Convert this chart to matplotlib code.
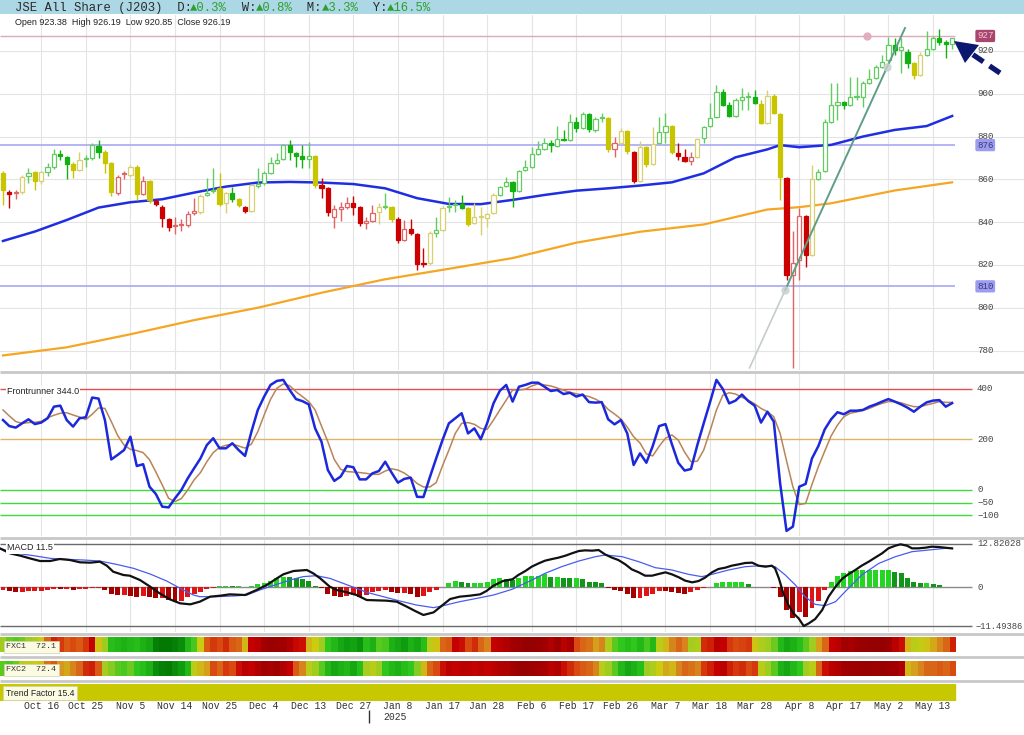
# -*- coding: utf-8 -*-

import matplotlib
matplotlib.use('Agg')
import matplotlib.pyplot as plt
from matplotlib.colors import LinearSegmentedColormap
from matplotlib.patches import Rectangle, Polygon
import numpy as np

# ---------------------------------------------------------------- data
date_labels = ['Oct 16', 'Oct 25', 'Nov 5', 'Nov 14', 'Nov 25', 'Dec 4', 'Dec 13',
               'Dec 27', 'Jan 8', 'Jan 17', 'Jan 28', 'Feb 6', 'Feb 17', 'Feb 26',
               'Mar 7', 'Mar 18', 'Mar 28', 'Apr 8', 'Apr 17', 'May 2', 'May 13']
date_bars = list(range(6, 147, 7))      # bar index of every date label
year_bar = 57.5                          # year change (Dec 31 -> Jan 2)

opens = [863.0, 854.1, 853.6, 854.1, 861.6, 863.5, 859.2, 863.5, 865.8, 871.9,
         870.5, 867.2, 864.4, 869.5, 870.0, 875.6, 872.8, 867.7, 853.6, 862.5,
         862.1, 865.8, 853.2, 859.2, 849.9, 847.1, 841.5, 838.2, 838.7, 838.7,
         844.3, 844.8, 852.7, 854.6, 856.0, 848.9, 853.6, 850.8, 847.1, 845.2,
         856.9, 858.3, 863.0, 867.7, 869.5, 876.1, 872.3, 870.9, 869.5, 870.9,
         857.4, 856.0, 842.4, 846.2, 847.1, 848.9, 847.1, 839.6, 840.5, 844.8,
         847.1, 847.1, 841.5, 831.7, 836.8, 834.5, 820.9, 820.9, 835.0, 836.4,
         847.1, 848.0, 848.5, 846.6, 839.6, 842.4, 842.0, 844.3, 852.7, 856.9,
         858.8, 854.6, 864.4, 865.8, 871.9, 874.2, 877.0, 875.6, 878.9, 878.4,
         886.8, 884.0, 890.6, 883.1, 888.7, 888.7, 874.2, 877.0, 882.6, 872.8,
         859.2, 875.1, 867.2, 877.0, 882.1, 885.0, 872.3, 870.5, 868.6, 870.5,
         879.3, 885.0, 889.2, 900.8, 894.8, 889.6, 897.1, 898.5, 898.5, 895.2,
         886.4, 899.0, 890.6, 860.7, 815.3, 822.2, 842.9, 824.7, 860.2, 863.9,
         886.8, 894.8, 896.2, 894.8, 898.5, 898.5, 905.0, 907.4, 912.5, 915.8,
         922.8, 920.5, 919.5, 914.4, 908.8, 918.1, 920.9, 926.1, 924.2, 923.38]
highs = [864.0, 855.0, 855.0, 862.0, 865.3, 864.0, 864.0, 867.7, 874.2, 873.7,
         871.0, 868.0, 872.8, 871.5, 877.0, 878.4, 873.5, 868.0, 862.0, 864.0,
         866.5, 866.5, 861.6, 859.8, 851.0, 847.8, 842.0, 842.4, 841.5, 845.0,
         851.3, 853.0, 860.7, 865.3, 863.0, 854.0, 856.4, 851.5, 847.6, 858.0,
         865.3, 864.0, 870.5, 872.3, 876.5, 878.4, 873.0, 876.1, 877.5, 871.5,
         860.7, 856.5, 848.0, 849.4, 851.8, 852.2, 847.6, 842.4, 848.0, 849.0,
         853.6, 847.6, 842.4, 841.0, 841.5, 835.0, 827.9, 836.0, 842.4, 847.5,
         851.8, 850.4, 852.7, 847.0, 849.0, 847.1, 844.5, 853.5, 857.0, 861.1,
         859.3, 864.5, 869.1, 875.1, 878.0, 879.3, 878.4, 885.0, 883.1, 890.6,
         889.2, 891.5, 891.2, 889.0, 891.0, 889.2, 879.8, 884.0, 883.0, 873.3,
         878.0, 875.6, 884.5, 889.2, 891.0, 885.5, 877.0, 874.2, 872.8, 879.5,
         885.0, 895.7, 904.1, 902.0, 896.0, 898.0, 902.7, 900.8, 901.7, 897.0,
         901.7, 900.0, 891.0, 861.2, 835.9, 846.6, 843.5, 866.7, 865.0, 888.0,
         905.0, 905.0, 896.8, 907.9, 907.9, 906.0, 911.6, 913.5, 918.0, 926.5,
         926.0, 926.0, 921.0, 915.0, 919.5, 929.3, 927.0, 930.3, 925.0, 926.19]
lows = [848.0, 846.6, 851.0, 853.0, 858.3, 855.0, 858.0, 861.6, 865.0, 869.0,
        860.2, 860.7, 864.0, 866.0, 869.0, 870.0, 863.0, 852.0, 852.5, 860.0,
        861.0, 850.4, 852.5, 849.0, 847.6, 837.8, 836.0, 834.5, 836.0, 837.5,
        843.3, 844.0, 852.0, 853.5, 847.5, 844.3, 849.4, 847.0, 844.3, 844.8,
        856.0, 857.5, 862.5, 867.0, 869.0, 869.0, 865.8, 865.3, 865.3, 856.0,
        851.3, 843.0, 837.3, 840.5, 846.0, 843.3, 838.0, 836.8, 840.0, 839.2,
        846.0, 840.0, 830.3, 831.0, 834.0, 817.7, 819.0, 820.0, 833.1, 836.0,
        844.8, 844.8, 846.0, 838.0, 839.0, 834.0, 837.8, 844.0, 852.0, 856.4,
        847.1, 854.0, 864.0, 865.3, 871.5, 873.8, 872.8, 875.0, 878.0, 878.0,
        882.0, 883.5, 882.0, 882.0, 886.8, 873.0, 870.5, 876.5, 872.0, 858.5,
        858.8, 866.0, 866.8, 876.5, 877.0, 872.0, 869.0, 868.0, 866.7, 870.0,
        877.0, 884.5, 888.8, 894.3, 889.0, 889.0, 892.4, 892.4, 895.2, 886.0,
        886.0, 890.5, 850.4, 813.0, 771.9, 813.0, 819.0, 824.2, 859.8, 863.5,
        886.3, 887.8, 893.0, 894.3, 897.0, 893.8, 904.5, 907.0, 912.0, 915.3,
        918.0, 909.7, 912.0, 907.0, 908.3, 917.6, 920.4, 922.8, 916.7, 920.85]
closes = [855.0, 853.2, 853.6, 861.1, 863.0, 859.2, 863.5, 865.8, 871.9, 870.9,
          867.2, 864.4, 869.1, 869.5, 876.1, 872.8, 867.7, 854.1, 861.1, 862.5,
          865.8, 853.2, 859.2, 850.4, 848.5, 842.0, 837.8, 838.2, 838.7, 843.8,
          845.2, 852.2, 853.6, 854.6, 848.5, 853.6, 850.8, 848.0, 845.2, 857.4,
          857.8, 863.0, 867.7, 869.1, 876.1, 872.8, 870.9, 869.5, 870.9, 857.4,
          856.0, 844.8, 846.2, 847.1, 848.9, 847.1, 839.6, 840.5, 844.3, 847.1,
          847.1, 841.5, 831.7, 836.8, 835.0, 820.5, 820.5, 835.0, 836.4, 846.6,
          847.1, 848.0, 846.6, 839.2, 842.4, 842.4, 843.8, 852.7, 856.4, 858.8,
          854.6, 863.9, 865.8, 871.9, 874.2, 877.0, 876.1, 878.9, 878.4, 886.8,
          884.0, 890.6, 883.5, 888.2, 888.7, 874.2, 877.0, 882.6, 873.3, 859.2,
          875.1, 867.2, 876.5, 882.1, 885.0, 872.8, 870.9, 868.6, 870.5, 878.9,
          884.5, 888.7, 900.8, 894.8, 889.6, 897.1, 898.5, 898.5, 895.7, 886.4,
          899.0, 891.0, 861.1, 815.3, 820.9, 842.9, 824.7, 860.2, 863.5, 886.8,
          894.8, 896.2, 894.8, 898.5, 898.5, 905.0, 906.9, 912.5, 914.9, 922.8,
          920.5, 921.9, 914.4, 908.8, 918.1, 920.9, 926.1, 924.2, 923.3, 926.19]
# g = green, y = yellow, r = red candle
tone = ("yrrygyyggg" "gyygggyyrr" "yyryrrrrrr" "ryggyygyry" "gggggggggy"
        "rrrrrrrrry" "gyrrrrrygy" "gggyyyyygg" "gggggggggg" "gggggyryyr"
        "yyyggyrrry" "gggggggggy" "yyyrrrrygg" "gggggggggg" "gggyyggggg")

# moving averages (read at sample bars)
ma_fast_x = [0, 5, 10, 15, 20, 25, 30, 35, 40, 45, 50, 55, 60, 65, 70, 75, 80, 85,
             90, 95, 100, 105, 110, 115, 120, 122, 125, 130, 135, 140, 145, 149]
ma_fast_y = [831.2, 835.6, 841.0, 846.8, 849.3, 850.7, 853.8, 856.6, 858.5, 858.8,
             858.5, 857.8, 855.8, 851.2, 848.5, 848.4, 850.4, 852.7, 854.7, 855.8,
             857.1, 858.6, 862.8, 870.3, 874.0, 876.0, 875.0, 876.1, 880.0, 883.1,
             884.9, 889.6]
ma_slow_x = [0, 10, 20, 30, 40, 50, 60, 70, 80, 90, 100, 110, 120, 125, 130, 140, 149]
ma_slow_y = [777.7, 781.5, 787.6, 794.2, 800.0, 807.0, 813.3, 818.2, 823.2, 830.4,
             835.5, 838.9, 845.9, 847.0, 848.8, 854.8, 858.6]

levels_blue = [876, 810]
level_top = 927
trend_x = [117.2, 122.8, 138.8, 141.6]
trend_y = [771.9, 808.3, 912.5, 930.7]

# Frontrunner
fr_main = [277, 253, 247, 264, 280, 261, 267, 284, 330, 334,
           277, 251, 284, 288, 366, 362, 277, 121, 139, 158,
           211, 95, 102, 13, -16, -66, -69, -33, 0, 46,
           86, 125, 178, 205, 165, 165, 185, 158, 135, 231,
           317, 370, 416, 432, 436, 396, 360, 352, 339, 244,
           191, 79, 36, 53, 95, 90, 42, 42, 66, 75,
           112, 69, 29, 44, 49, -27, -28, 50, 125, 198,
           264, 284, 304, 224, 244, 201, 264, 343, 393, 416,
           350, 409, 416, 425, 425, 409, 392, 396, 380, 385,
           370, 378, 348, 346, 348, 280, 260, 277, 224, 99,
           145, 108, 174, 253, 261, 182, 108, 77, 83, 178,
           264, 348, 436, 400, 343, 354, 378, 352, 334, 267,
           310, 271, 26, -162, -145, 13, 24, 125, 174, 240,
           280, 308, 300, 314, 314, 317, 330, 339, 350, 360,
           350, 339, 326, 310, 330, 347, 354, 356, 330, 344]
fr_signal = [317, 293, 271, 264, 267, 268, 272, 286, 296, 304,
             306, 297, 289, 279, 300, 325, 323, 271, 216, 178,
             161, 156, 148, 120, 71, 20, -33, -46, -34, 0,
             40, 69, 112, 148, 169, 177, 182, 174, 166, 182,
             231, 297, 359, 403, 420, 413, 389, 370, 350, 317,
             253, 191, 121, 82, 73, 71, 69, 66, 62, 62,
             75, 84, 79, 67, 49, 26, 12, 12, 29, 96,
             158, 224, 264, 267, 260, 244, 240, 277, 317, 356,
             396, 396, 399, 412, 420, 416, 412, 404, 395, 387,
             381, 376, 370, 360, 346, 319, 301, 281, 249, 211,
             186, 143, 135, 173, 205, 218, 198, 150, 112, 114,
             158, 234, 317, 375, 385, 380, 367, 356, 341, 323,
             310, 290, 224, 116, 13, -58, -53, 22, 92, 154,
             214, 257, 290, 304, 309, 315, 323, 334, 343, 350,
             350, 345, 337, 330, 330, 337, 343, 350, 347, 347]
fr_levels = [400, 200, 0, -50, -100]

# MACD
macd_hist = [-0.8, -1.08, -1.28, -1.28, -1.08, -1.08, -1.08, -0.79, -0.49, -0.59,
             -0.59, -0.69, -0.59, -0.49, -0.30, -0.30, -0.79, -2.07, -2.27, -2.27,
             -2.47, -2.76, -2.47, -2.76, -3.25, -3.25, -3.75, -4.24, -4.04, -2.76,
             -2.07, -1.28, -0.49, -0.10, 0.49, 0.49, 0.39, 0.39, 0.10, 0.49,
             0.89, 1.38, 1.87, 2.66, 3.16, 3.06, 2.86, 2.37, 1.87, 0.39,
             -0.10, -2.07, -2.56, -2.76, -2.56, -2.27, -2.76, -2.27, -1.28, -0.99,
             -0.89, -1.48, -1.77, -1.68, -2.07, -2.76, -2.56, -1.48, -0.79, 0.20,
             1.18, 1.87, 1.68, 1.18, 1.18, 1.18, 1.48, 2.47, 2.66, 2.37,
             2.17, 2.86, 3.45, 3.45, 3.45, 3.85, 3.16, 3.16, 2.86, 2.66,
             2.66, 2.47, 1.68, 1.48, 1.18, -0.10, -0.79, -0.99, -2.07, -3.06,
             -3.06, -2.56, -2.07, -0.99, -1.08, -1.48, -1.77, -2.07, -1.48, -0.79,
             -0.30, 0.05, 1.38, 1.48, 1.48, 1.48, 1.48, 0.89, 0.05, 0.10,
             0.20, -0.10, -2.76, -6.70, -8.97, -7.40, -8.68, -6.01, -4.04, -0.79,
             1.68, 3.45, 4.14, 4.83, 5.13, 5.13, 5.13, 5.13, 5.13, 5.13,
             4.63, 4.14, 2.86, 1.48, 1.18, 1.18, 0.89, 0.69, 0.20, 0.20]
macd_x = [-0.5, 1.1, 2.7, 4.2, 5.8, 7.4, 8.9, 10.5, 12.1, 13.7,
          15.2, 16.3, 17.3, 18.9, 19.9, 21.5, 23.1, 24.6, 26.2, 27.8,
          29.4, 30.9, 32.5, 34.1, 35.6, 38.0, 39.8, 41.4, 43.0, 44.0,
          45.6, 47.7, 48.7, 49.8, 51.3, 52.4, 54.0, 55.5, 57.1, 58.7,
          60.2, 61.8, 63.4, 64.7, 66.0, 67.6, 68.9, 70.2, 71.7, 73.3,
          74.9, 75.9, 77.0, 78.5, 80.0,
          80.9, 82.0, 83.0, 84.1, 85.1, 86.2, 87.2, 88.3, 89.3, 90.4,
          91.4, 92.5, 93.5, 94.5, 95.6, 96.6, 97.7, 98.7, 99.8, 100.8,
          101.9, 102.9, 104.0, 105.0, 106.1, 107.1, 108.2, 109.2, 110.2, 111.3,
          112.3, 113.4, 114.4, 115.5, 116.5, 117.6, 118.6, 119.7, 120.7, 121.2,
          121.8, 122.5, 123.3, 124.1, 124.9, 125.7, 126.5, 127.5, 128.6, 129.6,
          130.7, 131.7, 132.7, 133.8, 134.8, 135.9, 136.9, 138.0, 139.0, 140.1,
          140.9, 141.9, 142.7, 143.7, 144.8, 145.8, 146.9, 147.9, 149.0]
macd_y = [11.53, 10.05, 9.36, 8.57, 7.78, 7.78, 8.37, 8.08, 7.39, 7.29,
          7.58, 6.40, 4.62, 3.64, 3.44, 2.16, 0.19, -1.79, -3.56, -4.74,
          -5.04, -4.25, -2.77, -2.48, -2.08, -2.28, -0.80, 0.68, 2.65, 3.84,
          4.82, 5.12, 4.13, 2.65, 0.19, -0.80, -1.49, -2.28, -3.76, -3.86,
          -3.95, -4.25, -5.73, -7.01, -8.19, -7.41, -5.43, -3.46, -2.77, -2.48,
          -2.08, -1.09, 0.48, 1.86, 2.40,
          3.64, 4.82, 6.10, 7.09, 7.88, 8.37, 8.77, 9.36, 10.05, 10.74,
          10.93, 10.84, 11.03, 9.75, 8.77, 8.08, 6.79, 5.31, 4.43, 3.44,
          3.44, 3.93, 4.43, 3.84, 2.95, 1.96, 1.47, 1.86, 2.85, 4.43,
          5.41, 5.81, 6.40, 6.79, 7.19, 7.29, 6.40, 6.10, 6.40, 5.61,
          2.65, -1.79, -5.24, -7.70, -9.18, -11.45, -10.66, -9.38, -6.72, -2.77,
          0.19, 2.46, 3.84, 5.12, 6.40, 7.58, 8.77, 10.05, 11.53, 12.32,
          12.71, 12.32, 11.53, 11.53, 11.72, 12.02, 11.92, 11.72, 11.50]
sig_x = [-0.5, 2.1, 4.8, 7.4, 10.0, 12.6, 15.2, 17.8, 20.5, 23.1,
         25.7, 28.3, 29.9, 30.9, 33.5, 36.2, 38.3, 40.3, 43.0, 45.1,
         47.1, 49.2, 51.3, 53.4, 55.5, 57.1, 59.7, 62.3, 64.9, 67.6,
         69.1, 71.7, 74.4, 77.0, 79.9, 82.5, 85.1, 87.7, 90.4, 93.0,
         94.5, 95.6, 97.2, 99.8, 102.4, 105.0, 107.6, 109.7, 111.3, 113.9,
         116.5, 119.1, 121.2, 122.8, 124.4, 125.9, 127.5, 129.1, 130.7, 132.2,
         134.8, 137.5, 140.1, 142.7, 145.3, 147.9, 149.0]
sig_y = [11.53, 10.05, 9.36, 8.57, 8.27, 8.08, 7.78, 6.79, 5.61, 3.93,
         1.86, -0.80, -2.28, -2.77, -2.77, -2.57, -2.28, -0.80, 0.88, 2.16,
         3.15, 3.44, 2.65, 1.17, -0.31, -1.49, -2.77, -4.05, -5.24, -6.02,
         -5.43, -4.25, -3.26, -2.28, -0.60, 1.67, 4.13, 6.10, 7.78, 9.06,
         9.55, 9.36, 9.06, 7.58, 5.81, 5.12, 3.84, 3.15, 3.84, 5.12,
         6.10, 6.40, 6.10, 3.64, 0.68, -2.77, -5.04, -5.43, -4.25, -1.29,
         3.64, 7.09, 9.06, 10.54, 11.03, 11.53, 11.53]
macd_max, macd_min = 12.82028, -11.49386

# FXC strips (0 = deep red, 100 = deep green)
fxc1 = [62, 68, 70, 68, 62, 58, 50, 30, 18, 22, 28, 25, 28, 22, 12, 48, 62, 78, 80, 82,
        80, 78, 82, 85, 95, 97, 97, 95, 92, 80, 72, 50, 28, 22, 25, 20, 28, 30, 45, 12,
        10, 5, 3, 4, 5, 8, 14, 15, 45, 50, 62, 75, 80, 85, 88, 86, 90, 78, 82, 70,
        72, 82, 85, 88, 82, 85, 78, 55, 48, 30, 28, 12, 15, 25, 20, 30, 35, 12, 10, 8,
        5, 4, 2, 2, 3, 5, 8, 4, 10, 6, 25, 30, 32, 40, 35, 58, 70, 75, 78, 75,
        80, 72, 80, 55, 45, 35, 30, 35, 60, 58, 20, 18, 10, 12, 22, 25, 24, 22, 48, 58,
        62, 68, 80, 85, 82, 78, 70, 62, 40, 30, 12, 10, 5, 6, 4, 3, 2, 2, 2, 4,
        10, 15, 45, 55, 52, 48, 42, 35, 30, 18]
fxc2 = [70, 72, 68, 55, 52, 50, 48, 32, 28, 38, 42, 35, 30, 20, 18, 28, 60, 65, 70, 72,
        68, 75, 78, 82, 92, 95, 96, 92, 88, 80, 55, 45, 40, 25, 30, 22, 25, 15, 10, 12,
        8, 5, 6, 4, 8, 12, 28, 35, 55, 62, 70, 80, 85, 82, 80, 85, 78, 60, 55, 62,
        75, 80, 82, 78, 75, 65, 45, 30, 25, 15, 10, 12, 10, 10, 12, 10, 12, 10, 8, 8,
        5, 3, 3, 4, 5, 6, 10, 8, 15, 20, 25, 28, 30, 35, 55, 62, 70, 80, 85, 82,
        78, 62, 58, 50, 42, 45, 35, 30, 32, 35, 22, 18, 12, 10, 18, 22, 20, 25, 22, 55,
        62, 70, 82, 85, 80, 75, 62, 55, 30, 15, 10, 8, 5, 4, 4, 3, 3, 4, 3, 4,
        5, 8, 45, 40, 35, 30, 30, 28, 30, 25]

# ---------------------------------------------------------------- layout
W, H = 1024, 735
BAR_PX, X0_PX = 6.37, 3.0          # bar spacing and first bar position in pixels
XMIN, XMAX = -X0_PX / BAR_PX, (W - X0_PX) / BAR_PX
LAST = len(closes) - 1
RX = 977 / W                        # right scale labels (axes fraction)

GRID = '#e4e4e4'
MONO = ['Liberation Mono', 'DejaVu Sans Mono']
SANS = ['Liberation Sans', 'DejaVu Sans']

CANDLE = {'g': ('#12b012', '#62cc62'),
          'y': ('#c8c400', '#d8d070'),
          'r': ('#cc0000', '#e06464')}

fig = plt.figure(figsize=(W / 100, H / 100), dpi=100)
fig.patch.set_facecolor('white')


def panel(top, bottom):
    ax = fig.add_axes([0, 1 - bottom / H, 1, (bottom - top) / H])
    ax.set_xlim(XMIN, XMAX)
    ax.axis('off')
    return ax


def vgrid(ax):
    for b in date_bars:
        ax.axvline(b, color=GRID, lw=0.8, zorder=0)


def rlabel(ax, y, txt, fc=None, tc='#444444'):
    box = None
    if fc is not None:
        box = dict(boxstyle='round,pad=0.18', fc=fc, ec='none')
    ax.text(RX, y, txt, transform=ax.get_yaxis_transform(), ha='left', va='center',
            fontsize=6.6, family=MONO, color=tc, bbox=box, zorder=6)


# ---------------------------------------------------------------- price panel
ax = panel(15, 370)
ax.set_ylim(770.9, 936.8)
vgrid(ax)
for p in range(780, 921, 20):
    ax.axhline(p, color=GRID, lw=0.8, zorder=0)
    rlabel(ax, p, str(p))

ax.hlines(level_top, XMIN, LAST + 0.5, color='#ddaabb', lw=1, zorder=1)
for lv in levels_blue:
    ax.hlines(lv, XMIN, LAST + 0.5, color='#a8a8f4', lw=1.2, zorder=1)
rlabel(ax, level_top, str(level_top), fc='#a8466e', tc='#f4c8d8')
for lv in levels_blue:
    rlabel(ax, lv, str(lv), fc='#9c9cf0', tc='#3a3a7a')

ax.plot(ma_slow_x, ma_slow_y, color='#f5a623', lw=1.6, zorder=2)
ax.plot(ma_fast_x, ma_fast_y, color='#1f2ee0', lw=1.8, zorder=2)

for i, (o, h, l, c, code) in enumerate(zip(opens, highs, lows, closes, tone)):
    solid, light = CANDLE[code]
    filled = c < o
    col = solid if filled else light
    ax.vlines(i, l, h, color=col, lw=1, zorder=3)
    lo, hi = min(o, c), max(o, c)
    face = solid if (filled or hi - lo < 0.3) else 'white'
    ax.add_patch(Rectangle((i - 0.33, lo), 0.66, max(hi - lo, 0.35),
                           facecolor=face, edgecolor=col, lw=0.9, zorder=4))

# trend line, pale below the anchor point
ax.plot(trend_x[:2], trend_y[:2], color='#c4cccc', lw=1.2, zorder=5)
ax.plot(trend_x[1:], trend_y[1:], color='#5e9e86', lw=1.4, zorder=5)
ax.plot(trend_x[1:3], trend_y[1:3], 'o', ms=5, color='#c8d0d0', alpha=0.8, zorder=5)
ax.plot([135.6], [level_top], 'o', ms=5, color='#e0a8bc', alpha=0.9, zorder=5)

# ---------------------------------------------------------------- frontrunner
af = panel(373, 536)
af.set_ylim(-182.2, 463.3)
vgrid(af)
lv_cols = ['#e05050', '#dcb468', '#3cdc3c', '#3cdc3c', '#3cdc3c']
for lv, lc in zip(fr_levels, lv_cols):
    af.hlines(lv, XMIN, 152.1, color=lc, lw=1, zorder=1)
    rlabel(af, lv, str(lv).replace('-', '\u2212'))
bars = np.arange(len(fr_main))
af.plot(bars, fr_signal, color='#b88458', lw=1.1, zorder=2)
af.plot(bars, fr_main, color='#1c28dc', lw=1.8, zorder=3)

# ---------------------------------------------------------------- MACD
am = panel(539, 632)
am.set_ylim(-13.22, 14.29)
vgrid(am)
for lv, lc in [(macd_max, '#6a6a6a'), (0, '#8a8a8a'), (macd_min, '#6a6a6a')]:
    am.hlines(lv, XMIN, 152.1, color=lc, lw=1, zorder=1)
rlabel(am, macd_max, '%.5f' % macd_max)
rlabel(am, 0, '0')
am.text(975 / W, macd_min, '\u2212%.5f' % abs(macd_min), transform=am.get_yaxis_transform(),
        ha='left', va='center', fontsize=6.3, family=MONO, color='#444444', zorder=6)

hist_cols = []
for i, v in enumerate(macd_hist):
    prev = macd_hist[i - 1] if i else v
    if v >= 0:
        hist_cols.append('#22d622' if v >= prev else '#12961a')
    else:
        hist_cols.append('#e01414' if v >= prev else '#a40000')
am.bar(np.arange(len(macd_hist)), macd_hist, width=0.78, color=hist_cols, zorder=2)
am.plot(sig_x, sig_y, color='#4a5cf0', lw=0.9, zorder=3)
am.plot(macd_x, macd_y, color='#111111', lw=1.6, zorder=4)

# ---------------------------------------------------------------- FXC strips
fxc_cmap = LinearSegmentedColormap.from_list(
    'fxc', ['#8c0000', '#c80000', '#d84a10', '#d89420', '#cccc10',
            '#9ccc22', '#30c81e', '#10a010', '#006e00'])
for vals, (top, bottom) in [(fxc1, (637, 652)), (fxc2, (661, 676))]:
    a = panel(top, bottom)
    a.set_ylim(0, 1)
    a.imshow(np.array(vals)[None, :], cmap=fxc_cmap, vmin=0, vmax=100,
             aspect='auto', interpolation='nearest',
             extent=(-0.5, LAST + 0.5, 0, 1))
    a.set_xlim(XMIN, XMAX)
    a.set_ylim(0, 1)

at = panel(684, 701)
at.set_ylim(0, 1)
at.axvspan(-0.5, LAST + 0.5, color='#c8c800')

# ---------------------------------------------------------------- overlay (pixels)
ov = fig.add_axes([0, 0, 1, 1], zorder=10)
ov.set_xlim(0, W)
ov.set_ylim(H, 0)
ov.axis('off')

ov.add_patch(Rectangle((0, 0), W, 14, facecolor='#acd8e6', edgecolor='none'))
title_parts = [('JSE All Share (J203)  D:', '#2a2a2a'), ('\u25b20.3%', '#2e9e2e'),
               ('  W:', '#2a2a2a'), ('\u25b20.8%', '#2e9e2e'),
               ('  M:', '#2a2a2a'), ('\u25b23.3%', '#2e9e2e'),
               ('  Y:', '#2a2a2a'), ('\u25b216.5%', '#2e9e2e')]
CHAR_PX = 7.3
pos = 0
for txt, col in title_parts:
    ov.text(15 + pos * CHAR_PX, 7.5, txt, family=MONO, fontsize=8.8, color=col,
            ha='left', va='center')
    pos += len(txt)

ov.text(15, 22, 'Open 923.38  High 926.19  Low 920.85  Close 926.19',
        family=SANS, fontsize=6.5, color='#222222', va='center')

ov.text(7, 391.5, 'Frontrunner 344.0', family=SANS, fontsize=6.5, color='#222222',
        va='center', bbox=dict(boxstyle='square,pad=0.15', fc='white', ec='none'))
ov.text(7, 548, 'MACD 11.5', family=SANS, fontsize=6.5, color='#222222',
        va='center', bbox=dict(boxstyle='square,pad=0.15', fc='white', ec='none'))

for txt, y in [('FXC1  72.1', 646.5), ('FXC2  72.4', 669.5)]:
    ov.text(6, y, txt, family=MONO, fontsize=6, color='#333333', va='center',
            bbox=dict(boxstyle='square,pad=0.3', fc='#fbfbe2', ec='#d0d0b0', lw=0.5))
ov.text(6, 693, 'Trend Factor 15.4', family=SANS, fontsize=6.2, color='#222222',
        va='center', bbox=dict(boxstyle='square,pad=0.3', fc='#fbfbe2', ec='#d0d0b0', lw=0.5))

# panel separators
for y in [371.5, 537.5, 633.5, 657, 680.5]:
    ov.hlines(y, 0, W, color='#c8c8c8', lw=2)

# date axis
for b, lab in zip(date_bars, date_labels):
    ov.text(X0_PX + b * BAR_PX, 706, lab, family=MONO, fontsize=7, color='#333333',
            ha='center', va='center')
yx = X0_PX + year_bar * BAR_PX
ov.vlines(yx, 710, 723, color='#333333', lw=1)
ov.text(yx + 14, 717, '2025', family=MONO, fontsize=7, color='#333333', va='center')

# dashed pointer arrow
ov.plot([1000, 966], [73, 50], color='#0c1870', lw=3.8, ls=(0, (2.4, 1.4)),
        solid_capstyle='butt')
ov.add_patch(Polygon([[954, 41], [979, 45], [965, 63]], closed=True,
                     facecolor='#0c1870', edgecolor='none'))

fig.savefig('out.png', dpi=100, facecolor='white')
plt.close(fig)
